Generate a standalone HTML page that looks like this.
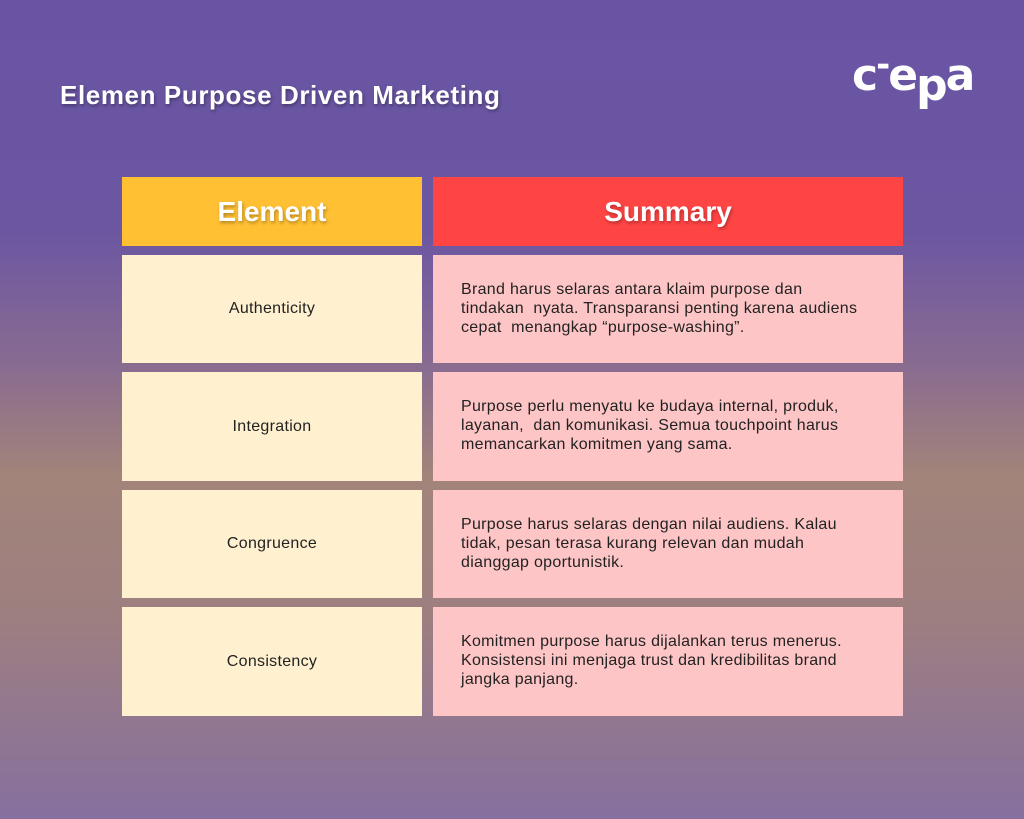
<!DOCTYPE html>
<html><head><style>
body{margin:0;width:1024px;height:819px;overflow:hidden;font-family:"Liberation Sans",sans-serif;
background:linear-gradient(180deg,#6954a4 0%,#6b56a2 28%,#8a6c90 45%,#a2847a 58%,#9e7f80 75%,#86709e 100%);position:relative}
.t{position:absolute;left:60px;top:80px;color:#fff;font-weight:bold;font-size:26px;letter-spacing:0.6px;text-shadow:1px 2px 3px rgba(0,0,0,.35)}
.c{position:absolute;box-sizing:border-box}
.h{color:#fff;font-weight:bold;font-size:28px;display:flex;align-items:center;justify-content:center;text-shadow:1px 2px 3px rgba(0,0,0,.3)}
.l{background:#fff1d0;display:flex;align-items:center;justify-content:center;font-size:16px;letter-spacing:0.3px;color:#222}
.r{background:#fec5c6;font-size:16px;letter-spacing:0.3px;color:#222;padding:25px 10px 0 28px;line-height:19px;white-space:nowrap}
.logo{position:absolute;left:852px;top:50px;color:#fff;font-weight:bold;font-size:44px;letter-spacing:-2px;font-family:"DejaVu Sans",sans-serif}
</style></head><body>
<div class="t">Elemen Purpose Driven Marketing</div>
<div class="logo">c<span style="position:relative;top:-14px;font-size:34px">-</span>e<span style="position:relative;top:10px">p</span>a</div>
<div class="c h" style="left:122px;top:177px;width:300px;height:69px;background:#ffc033">Element</div>
<div class="c h" style="left:433px;top:177px;width:470px;height:69px;background:#ff4444">Summary</div>
<div class="c l" style="left:122px;top:255px;width:300px;height:108px">Authenticity</div>
<div class="c r" style="left:433px;top:255px;width:470px;height:108px">Brand harus selaras antara klaim purpose dan<br>tindakan&nbsp; nyata. Transparansi penting karena audiens<br>cepat&nbsp; menangkap “purpose-washing”.</div>
<div class="c l" style="left:122px;top:372px;width:300px;height:109px">Integration</div>
<div class="c r" style="left:433px;top:372px;width:470px;height:109px">Purpose perlu menyatu ke budaya internal, produk,<br>layanan,&nbsp; dan komunikasi. Semua touchpoint harus<br>memancarkan komitmen yang sama.</div>
<div class="c l" style="left:122px;top:490px;width:300px;height:108px">Congruence</div>
<div class="c r" style="left:433px;top:490px;width:470px;height:108px">Purpose harus selaras dengan nilai audiens. Kalau<br>tidak, pesan terasa kurang relevan dan mudah<br>dianggap oportunistik.</div>
<div class="c l" style="left:122px;top:607px;width:300px;height:109px">Consistency</div>
<div class="c r" style="left:433px;top:607px;width:470px;height:109px">Komitmen purpose harus dijalankan terus menerus.<br>Konsistensi ini menjaga trust dan kredibilitas brand<br>jangka panjang.</div>
</body></html>
